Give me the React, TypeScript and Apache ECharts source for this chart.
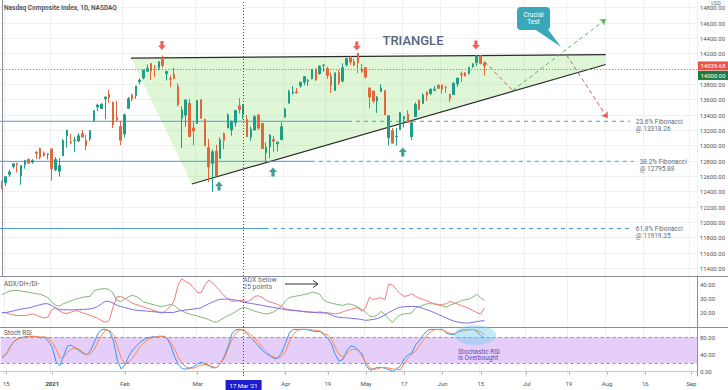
import React, { useEffect, useRef } from "react";
import * as echarts from "echarts";

// ---------- categories ----------
const HOLIDAYS = ["2020-12-25", "2021-01-01", "2021-01-18", "2021-02-15", "2021-04-02", "2021-05-31", "2021-07-05", "2021-09-06"];
const FIRST_DAY = "2020-12-14";
const N_DAYS = 182;

const TICK_DATES = ["2020-12-15", "2021-01-04", "2021-02-01", "2021-03-01", "2021-03-17", "2021-04-01", "2021-04-19", "2021-05-03", "2021-05-17", "2021-06-01", "2021-06-15", "2021-07-01", "2021-07-19", "2021-08-02", "2021-08-16", "2021-09-01"];
const TICK_LABELS = ["15", "2021", "Feb", "Mar", "17 Mar '21", "Apr", "19", "May", "17", "Jun", "15", "Jul", "19", "Aug", "16", "Sep"];
const CROSSHAIR_DATE = "2021-03-17";

// ---------- price data [open, high, low, close] ----------
const OHLC: number[][] = [
  [12447, 12543, 12432, 12440], [12519, 12596, 12470, 12595], [12626, 12686, 12594, 12658], [12730, 12764, 12700, 12764],
  [12771, 12772, 12650, 12756], [12607, 12743, 12491, 12742], [12753, 12808, 12700, 12808], [12820, 12834, 12771, 12771],
  [12785, 12823, 12765, 12805], [12914, 12930, 12827, 12900], [12965, 12974, 12822, 12850], [12907, 12924, 12857, 12870],
  [12878, 12902, 12821, 12888],
  [12958, 12958, 12543, 12698], [12687, 12853, 12665, 12819], [12666, 12839, 12596, 12741], [12867, 13090, 12867, 13067],
  [13128, 13208, 12975, 13202], [13048, 13157, 13018, 13036], [13068, 13118, 12915, 13072], [13060, 13161, 13048, 13128],
  [13159, 13207, 13112, 13112], [13070, 13141, 12940, 12999], [13090, 13199, 13059, 13197], [13329, 13464, 13309, 13457],
  [13505, 13548, 13449, 13530], [13485, 13551, 13479, 13543], [13612, 13636, 13348, 13635], [13672, 13728, 13559, 13626],
  [13570, 13571, 13230, 13271], [13370, 13583, 13313, 13337], [13249, 13325, 13003, 13070],
  [13152, 13421, 13105, 13403], [13488, 13636, 13482, 13612], [13665, 13676, 13578, 13610], [13653, 13777, 13610, 13778],
  [13833, 13879, 13799, 13856], [13885, 13988, 13864, 13988], [13971, 14058, 13967, 14007], [14071, 14076, 13858, 13973],
  [14031, 14051, 13894, 14025], [14014, 14100, 13984, 14095], [14125, 14176, 14017, 14047], [13938, 13980, 13852, 13966],
  [13874, 13913, 13763, 13865], [13928, 14016, 13869, 13874], [13773, 13813, 13512, 13533], [13359, 13513, 12971, 13465],
  [13398, 13598, 13248, 13597], [13551, 13606, 13108, 13119], [13232, 13312, 13004, 13192],
  [13289, 13590, 13289, 13588], [13598, 13608, 13355, 13358], [13341, 13354, 12996, 12998], [12976, 13090, 12525, 12723],
  [12767, 12951, 12397, 12920], [12928, 13011, 12607, 12609], [12834, 13107, 12834, 13073], [13160, 13169, 12953, 13069],
  [13230, 13422, 13230, 13399], [13205, 13324, 13130, 13320], [13302, 13460, 13248, 13459], [13520, 13620, 13419, 13471],
  [13410, 13540, 13347, 13525], [13340, 13400, 13116, 13116], [13114, 13248, 13065, 13215], [13204, 13398, 13204, 13377],
  [13400, 13415, 13208, 13227], [13290, 13292, 12961, 12961], [12907, 13040, 12787, 12977], [12987, 13149, 12838, 13139],
  [13080, 13129, 12914, 13059], [13025, 13051, 12924, 13045], [13077, 13305, 13075, 13247],
  [13371, 13489, 13367, 13480], [13554, 13730, 13553, 13705], [13686, 13778, 13666, 13698], [13701, 13752, 13681, 13688],
  [13780, 13830, 13757, 13829], [13827, 13900, 13788, 13900], [13838, 13870, 13779, 13850], [13875, 14000, 13863, 13996],
  [14003, 14004, 13845, 13857], [13939, 14045, 13926, 14039], [14048, 14060, 13963, 14052], [14005, 14030, 13870, 13914],
  [13906, 13955, 13685, 13787], [13721, 13951, 13711, 13950], [13952, 13990, 13790, 13818], [13842, 14073, 13827, 14016],
  [14060, 14138, 14030, 14138], [14146, 14167, 14053, 14090], [14094, 14130, 14034, 14051], [14203, 14212, 13947, 14082],
  [14000, 14065, 13950, 13962],
  [14018, 14024, 13876, 13895], [13753, 13754, 13485, 13634], [13712, 13719, 13553, 13582], [13582, 13647, 13428, 13633],
  [13707, 13799, 13702, 13752], [13721, 13722, 13401, 13402], [13104, 13394, 13002, 13389], [13196, 13230, 13031, 13032],
  [13120, 13232, 12999, 13125], [13209, 13441, 13208, 13430], [13351, 13381, 13237, 13379], [13413, 13464, 13300, 13303],
  [13117, 13330, 13073, 13299], [13377, 13564, 13376, 13536], [13591, 13604, 13462, 13471], [13549, 13680, 13546, 13661],
  [13701, 13709, 13582, 13657], [13677, 13744, 13664, 13738], [13724, 13778, 13709, 13736], [13787, 13803, 13743, 13749],
  [13792, 13792, 13678, 13737], [13759, 13780, 13691, 13756], [13668, 13676, 13568, 13614], [13667, 13828, 13667, 13814],
  [13806, 13886, 13767, 13881], [13935, 13967, 13830, 13925], [13950, 13958, 13900, 13911], [13944, 14029, 13925, 14020],
  [14033, 14069, 14015, 14070], [14082, 14175, 14036, 14174], [14173, 14180, 14059, 14073], [14078, 14098, 13915, 14040],
];

const LAST_PRICE = 14039.68;
const KEY_LEVEL = 14000;

// ---------- ADX / DI ----------
const DI_PLUS = [
  32.8, 34, 35.4, 35.7, 35.9, 35.4, 35, 34.5, 34, 33.5, 33, 32.1, 30.7, 27.6, 25.4, 24.7, 26.4, 27.3, 28.3, 29.5,
  30.2, 30.9, 31.4, 31.6, 35.4, 36.4, 36.9, 37.1, 36.4, 34, 28.8, 28, 29.7, 31.2, 32.3, 31.6, 30, 27.6, 26.9, 26.2,
  25.4, 24.7, 24.5, 25.2, 25.9, 25.2, 22.8, 21.4, 20, 19.2, 18.5, 17.8, 16.9, 16.2, 15.2, 14, 13.3, 15, 16.4, 18.1,
  19.2, 20.7, 22.6, 23.8, 23.3, 22.1, 21.2, 20.4, 19.7, 19.2, 19.7, 20.7, 22.6, 24.5, 28.3, 30.7, 31.4, 31.9, 32.3, 33,
  33.5, 34.7, 34, 33, 29.2, 27.6, 26.9, 26.2, 25.7, 25.2, 26.2, 26.2, 25.2, 24, 22.1, 20.4, 17.6, 17.3, 18.3, 21.1,
  18.8, 15.7, 13.3, 16.4, 18.5, 19.2, 19.5, 20, 23.5, 24.5, 25.4, 26.4, 26.4, 26.4, 25.9, 24.9, 24, 25.4, 26.4, 27.3,
  28.8, 29.2, 29.7, 31.2, 33, 30.7, 28.8,
];
const DI_MINUS = [
  20.2, 20, 19.2, 18.5, 18.1, 18.1, 18.1, 18.5, 19.2, 18.3, 17.3, 16.4, 16.9, 22.1, 23.5, 21.6, 20, 19.5, 20.4, 21.4,
  21.2, 20, 19.2, 18.3, 17.1, 16.2, 14.5, 13.3, 14.5, 24, 31.2, 31.6, 30.4, 28.8, 26.9, 25.9, 25, 24, 23.3, 22.3,
  21.4, 20.4, 19.7, 22.1, 24.5, 28.8, 39.5, 44.2, 41.9, 40.7, 37.8, 34.5, 34, 39.5, 43.1, 41.2, 38.3, 35.4, 32.1, 30,
  28.1, 28.3, 28.8, 28.8, 27.6, 29.2, 31.6, 32.1, 30.7, 28.8, 27.6, 26.9, 25.9, 24.5, 22.8, 22.3, 21.9, 21.6, 21.2, 20.7,
  20.4, 20.4, 20.4, 20.7, 20.2, 20, 19.7, 19.2, 19.7, 20.7, 21.6, 22.3, 23.3, 23.5, 21.2, 24, 31.2, 29.2, 30.2, 30.7,
  29.2, 40.2, 39.7, 36.4, 33.5, 31.6, 32.1, 33.5, 31.6, 30.4, 29.5, 28.5, 27.3, 26.2, 25.4, 25.9, 26.4, 28.1, 27.1, 26.2,
  25, 24.2, 23, 21.6, 20.2, 19.2, 23.5,
];
const ADX = [
  20, 20.2, 20.7, 21.4, 22.1, 22.6, 23.1, 23.5, 24.2, 25, 25.7, 26.4, 26.4, 25.2, 23.5, 22.3, 22.1, 22.1, 22.1, 22.1,
  22.3, 22.3, 22.6, 22.8, 23.3, 24.5, 26.4, 28.1, 28.1, 26.9, 25.4, 24.5, 23.8, 23.1, 22.3, 21.9, 21.6, 21.4, 21.2, 20.9,
  20.7, 20.4, 20.4, 20.2, 20.2, 20.4, 21.2, 21.6, 22.1, 22.3, 22.6, 23.1, 23.5, 25, 26.4, 27.6, 28.8, 29.5, 29.7, 29.7,
  29.5, 29, 28.3, 27.6, 27.1, 26.6, 26.2, 25.7, 25.2, 24.7, 24.2, 23.8, 23.3, 22.8, 22.3, 21.9, 21.6, 21.4, 21.2, 20.9,
  20.7, 20.4, 20.2, 20, 20, 19.7, 18.5, 17.3, 16.9, 16.6, 16.4, 16.2, 15.9, 15.7, 15.2, 14.7, 15, 15.4, 15.9, 17.1,
  18.5, 20.2, 21.6, 23.1, 24, 24.2, 24.5, 24.5, 24.5, 24, 23.1, 22.1, 21.2, 20, 18.8, 17.6, 16.4, 15.2, 14.2, 13.5,
  13.1, 12.8, 12.8, 13.3, 13.8, 14.2, 14.5,
];

// ---------- Stoch RSI ----------
const STOCH_K = [
  31.9, 41.5, 58.5, 69.7, 76.3, 79.3, 81.5, 82.3, 82.3, 80.8, 78.5, 80, 71.1, 56.3, 23, 14.1, 37.8, 60, 61.5, 55.6,
  48.9, 43, 39.3, 48.9, 69, 89.7, 98.5, 98.5, 93.4, 71.1, 26.7, 6, 15.6, 36.3, 50.4, 60, 69, 74.8, 79.3, 80.8,
  81.5, 82.3, 82.3, 78.5, 60, 34.1, 15.6, 6.7, 6, 8.2, 11.9, 18.5, 22.3, 17.8, 13.4, 8.9, 9.7, 19.3, 36.3, 60,
  89.7, 97.8, 98.5, 97, 86.7, 78.5, 69, 58.5, 48.9, 41.5, 36.3, 30.4, 31.9, 45.2, 67.4, 91.1, 98.5, 98.5, 98.5, 98.5,
  97, 94.8, 93.4, 93.4, 86, 78.5, 63.7, 39.3, 24.5, 28.9, 48.9, 60, 57.8, 50.4, 41.5, 14.1, 3.7, 6.7, 10.4, 9.7,
  8.2, 4.5, 0.8, 6.7, 13.4, 30.4, 39.3, 43.7, 63, 73.4, 86, 95.6, 98.5, 98.5, 98.5, 98.5, 89.7, 86.7, 86, 92.6,
  97, 97, 97.8, 98.5, 92.6, 83.7, 77.8,
];
const STOCH_D = [
  35.6, 42.2, 56.3, 71.1, 76.3, 79.3, 80.8, 81.5, 82.3, 81.5, 80.8, 80.8, 78.5, 67.4, 52.6, 31.9, 33.4, 45.2, 52.6, 55.6,
  52.6, 45.2, 39.3, 41.5, 52.6, 71.1, 86, 97, 95.6, 86, 58.5, 31.9, 17.1, 23, 31.9, 45.2, 58.5, 67.4, 74.8, 78.5,
  80.8, 82.3, 82.3, 78.5, 67.4, 52.6, 31.9, 19.3, 10.4, 8.2, 8.2, 12.6, 15.6, 16.3, 15.6, 11.1, 9.7, 20, 31.9, 54.1,
  74.8, 91.1, 97, 97, 91.1, 86, 76.3, 67.4, 55.6, 46.7, 37.8, 34.1, 31.9, 35.6, 48.9, 71.1, 86, 97, 97.8, 98.5,
  98.5, 97, 95.6, 94.8, 88.2, 85.2, 74.8, 56.3, 39.3, 34.8, 41.5, 51.1, 52.6, 48.9, 36.3, 19.3, 8.2, 5.2, 6.7, 9.7,
  9.7, 8.2, 6.7, 5.2, 4.5, 19.3, 31.9, 40.7, 48.2, 61.5, 73.4, 86, 93.4, 98.5, 97.8, 97, 92.6, 88.9, 88.2, 91.9,
  94.8, 96.3, 97.8, 98.5, 95.6, 92.6, 85.9,
];
const STOCH_BAND = [20, 80];

// ---------- annotations (x = trading-day index, y = price) ----------
const TRI_TOP = [[33.7, 14143], [157.7, 14187]];
const TRI_SUPPORT = [[49.6, 12500], [157.7, 14059]];
const FIB_NAMES = ["23.6%", "38.2%", "61.8%"];
const FIB_LEVELS = [13318.26, 12795.88, 11919.35];
const FIB_SOLID_END = [90.4, 80.7, 68.7];
const FIB_DASH_END = [164, 165, 164];
const PROJ_RED_1 = [[126.1, 14095], [133.4, 13720]];
const PROJ_GREEN = [[133.4, 13720], [157.8, 14652]];
const PROJ_RED_2 = [[147.5, 14183], [158.2, 13357]];
const RESISTANCE_ARROWS = [[41.8, 14307], [92.7, 14300], [123.8, 14313]];
const SUPPORT_ARROWS = [[56.7, 12474], [70.8, 12657], [104.7, 12917]];

// ---------- styles ----------
const FONT = 'Roboto, "Noto Sans", sans-serif';
const UP = "#1f9d86";
const DOWN = "#e2683c";
const FIB_COLOR = "#4b9bdc";
const AXIS_TEXT = "#50535e";
const SEP = "#8c8f97";
const GRID_LINE = "#eef0f4";

function buildDates(): string[] {
  const out: string[] = [];
  const d = new Date(FIRST_DAY + "T00:00:00Z");
  while (out.length < N_DAYS) {
    const wd = d.getUTCDay();
    const s = d.toISOString().slice(0, 10);
    if (wd !== 0 && wd !== 6 && HOLIDAYS.indexOf(s) < 0) out.push(s);
    d.setUTCDate(d.getUTCDate() + 1);
  }
  return out;
}

function buildOption() {
  const DATES = buildDates();
  const isTick = (_i: number, v: string) => TICK_DATES.indexOf(v) >= 0;
  const isGrid = (_i: number, v: string) => TICK_DATES.indexOf(v) >= 0 && v !== CROSSHAIR_DATE;
  const fmtDate = (v: string) => {
    const k = TICK_DATES.indexOf(v);
    if (k < 0) return "";
    if (v === CROSSHAIR_DATE) return "{hl|" + TICK_LABELS[k] + "}";
    if (TICK_LABELS[k] === "2021") return "{b|2021}";
    return TICK_LABELS[k];
  };
  const catAxis = (grid: number, showLabels: boolean, lineColor: string) => ({
    type: "category",
    gridIndex: grid,
    data: DATES,
    boundaryGap: true,
    axisLine: { show: true, lineStyle: { color: lineColor, width: 1 } },
    axisTick: { show: showLabels, interval: isTick, alignWithLabel: true, length: 3, lineStyle: { color: "#b2b5be" } },
    axisLabel: {
      show: showLabels,
      interval: isTick,
      formatter: fmtDate,
      fontSize: 6,
      color: AXIS_TEXT,
      margin: 4,
      fontFamily: FONT,
      rich: {
        hl: { backgroundColor: "#1d1dd0", color: "#fff", padding: [2, 4, 2, 4], fontSize: 6, fontFamily: FONT },
        b: { fontWeight: "bold", fontSize: 6, color: "#3d404a", fontFamily: FONT },
      },
    },
    splitLine: { show: true, interval: isGrid, lineStyle: { color: GRID_LINE, width: 1 } },
  });
  const yLabel = { fontSize: 6, color: AXIS_TEXT, margin: 3, fontFamily: FONT };
  const crossLine = {
    silent: true,
    symbol: "none",
    label: { show: false },
    data: [{ xAxis: CROSSHAIR_DATE, lineStyle: { type: [1, 2], color: "#3443c6", width: 1 } }],
  };

  const series: any[] = [];

  // triangle (custom shape through the axes)
  series.push({
    type: "custom",
    xAxisIndex: 3,
    yAxisIndex: 0,
    z: 1,
    clip: false,
    silent: true,
    data: [[TRI_TOP[0][0], TRI_TOP[0][1]]],
    renderItem: (_p: any, api: any) => {
      const tl = api.coord(TRI_TOP[0]);
      const tr = api.coord(TRI_TOP[1]);
      const bl = api.coord(TRI_SUPPORT[0]);
      const br = api.coord(TRI_SUPPORT[1]);
      return {
        type: "group",
        children: [
          { type: "polygon", shape: { points: [tl, tr, br, bl] }, style: { fill: "rgba(150,228,118,0.30)" } },
          { type: "line", shape: { x1: tl[0], y1: tl[1], x2: tr[0], y2: tr[1] }, style: { stroke: "#2b2b2b", lineWidth: 1.2 } },
          { type: "line", shape: { x1: bl[0], y1: bl[1], x2: br[0], y2: br[1] }, style: { stroke: "#2b2b2b", lineWidth: 1.2 } },
        ],
      };
    },
  });

  // Fibonacci levels
  FIB_LEVELS.forEach((lvl, k) => {
    series.push({
      type: "line",
      xAxisIndex: 3,
      yAxisIndex: 0,
      z: 1,
      silent: true,
      symbol: "none",
      data: [[-0.5, lvl], [FIB_SOLID_END[k], lvl]],
      lineStyle: { color: FIB_COLOR, width: 1 },
    });
    series.push({
      type: "line",
      xAxisIndex: 3,
      yAxisIndex: 0,
      z: 1,
      silent: true,
      symbol: "none",
      data: [[FIB_SOLID_END[k], lvl], [FIB_DASH_END[k], lvl]],
      lineStyle: { color: FIB_COLOR, width: 1, type: [4, 4] },
      endLabel: {
        show: true,
        formatter: FIB_NAMES[k] + " Fibonacci\n@ " + lvl.toFixed(2),
        color: "#5d6b79",
        fontSize: 6.5,
        lineHeight: 7,
        fontFamily: FONT,
        distance: 6,
        offset: [0, 4],
        align: "left",
      },
    });
  });

  // candles
  series.push({
    type: "candlestick",
    xAxisIndex: 0,
    yAxisIndex: 0,
    z: 3,
    barWidth: 2,
    data: OHLC.map(([o, h, l, c]) => [o, c, l, h]),
    itemStyle: { color: UP, color0: DOWN, borderColor: UP, borderColor0: DOWN, borderWidth: 1 },
    markLine: {
      silent: true,
      symbol: "none",
      label: { show: false },
      data: [
        { yAxis: KEY_LEVEL, lineStyle: { type: [1, 2], color: "#7d9a6a", width: 1 } },
        { xAxis: CROSSHAIR_DATE, lineStyle: { type: [1, 2], color: "#3443c6", width: 1 } },
      ],
    },
  });

  // arrows + projection lines
  const dash = (color: string) => ({ color, type: [4, 3], width: 1 });
  series.push({
    type: "scatter",
    xAxisIndex: 3,
    yAxisIndex: 0,
    z: 4,
    silent: true,
    symbol: "path://M3,0L7,0L7,5L10,5L5,10L0,5L3,5Z",
    symbolSize: [8, 9],
    itemStyle: { color: "#e53935" },
    data: RESISTANCE_ARROWS,
    markLine: {
      silent: true,
      symbolSize: 6,
      label: { show: false },
      data: [
        [{ coord: PROJ_RED_1[0], symbol: "none", lineStyle: dash("#e5534b") }, { coord: PROJ_RED_1[1], symbol: "none", lineStyle: dash("#e5534b") }],
        [{ coord: PROJ_GREEN[0], symbol: "none", lineStyle: dash("#5bb55b") }, { coord: PROJ_GREEN[1], symbol: "arrow", lineStyle: dash("#5bb55b") }],
        [{ coord: PROJ_RED_2[0], symbol: "none", lineStyle: dash("#e5534b") }, { coord: PROJ_RED_2[1], symbol: "arrow", lineStyle: dash("#e5534b") }],
      ],
    },
  });
  series.push({
    type: "scatter",
    xAxisIndex: 3,
    yAxisIndex: 0,
    z: 4,
    silent: true,
    symbol: "path://M5,0L10,5L7,5L7,10L3,10L3,5L0,5Z",
    symbolSize: [8, 9],
    itemStyle: { color: "#0e8a78" },
    data: SUPPORT_ARROWS,
  });

  // ADX panel
  const lineS = (data: number[], color: string, x: number, y: number, extra: any = {}) => ({
    type: "line",
    xAxisIndex: x,
    yAxisIndex: y,
    data,
    symbol: "none",
    silent: true,
    lineStyle: { color, width: 1 },
    ...extra,
  });
  series.push(lineS(DI_PLUS, "#7fb874", 1, 1));
  series.push(lineS(DI_MINUS, "#f27b78", 1, 1));
  series.push(lineS(ADX, "#7a6ee8", 1, 1, { markLine: crossLine }));

  // Stoch RSI panel
  series.push(
    lineS(STOCH_K, "#3d93f2", 2, 2, {
      markArea: {
        silent: true,
        itemStyle: { color: "#e5cefa" },
        data: [[{ yAxis: STOCH_BAND[0] }, { yAxis: STOCH_BAND[1] }]],
      },
      markLine: {
        silent: true,
        symbol: "none",
        label: { show: false },
        data: [
          { yAxis: STOCH_BAND[0], lineStyle: { type: [3, 3], color: "#9d7fc9", width: 1 } },
          { yAxis: STOCH_BAND[1], lineStyle: { type: [3, 3], color: "#9d7fc9", width: 1 } },
          { xAxis: CROSSHAIR_DATE, lineStyle: { type: [1, 2], color: "#3443c6", width: 1 } },
        ],
      },
    })
  );
  series.push(lineS(STOCH_D, "#ff8748", 2, 2));

  return {
    animation: false,
    backgroundColor: "#ffffff",
    textStyle: { fontFamily: FONT },
    grid: [
      { left: 0, right: 31, top: 0, height: 276 },
      { left: 0, right: 31, top: 276, height: 51 },
      { left: 0, right: 31, top: 327, height: 51 },
    ],
    xAxis: [
      catAxis(0, false, SEP),
      catAxis(1, false, SEP),
      catAxis(2, true, "#c5c8ce"),
      { type: "value", gridIndex: 0, min: -0.5, max: N_DAYS - 0.5, show: false },
    ],
    yAxis: [
      {
        type: "value",
        gridIndex: 0,
        position: "right",
        min: 11300,
        max: 14900,
        interval: 100,
        axisLine: { show: true, lineStyle: { color: SEP } },
        axisTick: { show: false },
        axisLabel: {
          ...yLabel,
          formatter: (v: number) => {
            const r = Math.round(v);
            // 14000 is carried by the price tag at the right edge
            return r % 200 === 0 && r > 11300 && r < 14900 && r !== KEY_LEVEL ? r.toFixed(2) : "";
          },
        },
        splitLine: { show: true, lineStyle: { color: ["rgba(0,0,0,0)", GRID_LINE] } },
      },
      {
        type: "value",
        gridIndex: 1,
        position: "right",
        min: 10,
        max: 46,
        interval: 10,
        axisLine: { show: true, lineStyle: { color: SEP } },
        axisTick: { show: false },
        axisLabel: {
          ...yLabel,
          formatter: (v: number) => {
            const r = Math.round(v);
            return r >= 20 && r <= 40 ? r.toFixed(2) : "";
          },
        },
        splitLine: { show: false },
      },
      {
        type: "value",
        gridIndex: 2,
        position: "right",
        min: -10,
        max: 104,
        interval: 10,
        axisLine: { show: true, lineStyle: { color: SEP } },
        axisTick: { show: false },
        axisLabel: {
          ...yLabel,
          formatter: (v: number) => {
            const r = Math.round(v);
            return r === 0 || r === 40 || r === 80 ? r.toFixed(2) : "";
          },
        },
        splitLine: { show: false },
      },
    ],
    series,
  };
}

function buildGraphics(yLast: number, yLevel: number) {
  const t = (x: number, y: number, text: string, style: any = {}) => ({
    type: "text",
    x,
    y,
    z: 20,
    silent: true,
    style: { text, fill: "#4a4f5c", fontSize: 6.5, fontFamily: FONT, verticalAlign: "middle", ...style },
  });
  const redY = yLast;
  const greenY = Math.max(yLevel, redY + 9.5);
  return [
    t(4, 8, "Nasdaq Composite Index, 1D, NASDAQ", { fontWeight: 600, fill: "#4a4f5c" }),
    {
      type: "text",
      x: 716,
      y: 2.5,
      z: 20,
      style: {
        text: "USD",
        fill: "#6a6d78",
        fontSize: 5,
        fontFamily: FONT,
        align: "center",
        verticalAlign: "middle",
        backgroundColor: "#fff",
        borderColor: "#c9ccd2",
        borderWidth: 0.5,
        padding: [0, 2, 0, 2],
        borderRadius: 1,
      },
    },
    t(413, 40, "TRIANGLE", { fontSize: 13, fontWeight: 500, fill: "#57667b", align: "center" }),
    // Crucial test callout
    { type: "polygon", z: 20, shape: { points: [[533, 28], [547, 28], [561, 47]] }, style: { fill: "#3ba7b8" } },
    { type: "rect", z: 20, shape: { x: 517, y: 7, width: 33, height: 23, r: 4 }, style: { fill: "#3ba7b8" } },
    t(533.5, 18.5, "Crucial\nTest", { fill: "#ffffff", align: "center", lineHeight: 7.5 }),
    // panel titles
    t(4, 284, "ADX/DI+/DI-", { fill: "#555862", fontSize: 6.5 }),
    t(4, 333, "Stoch RSI", { fill: "#555862", fontSize: 6.5 }),
    // ADX note
    t(243, 283.7, "ADX below\n25 points", { fill: "#5b6b8c", fontSize: 7, lineHeight: 6.5 }),
    { type: "line", z: 20, shape: { x1: 285, y1: 284, x2: 318, y2: 284 }, style: { stroke: "#333", lineWidth: 1 } },
    { type: "polyline", z: 20, shape: { points: [[313, 280.5], [318, 284], [313, 287.5]] }, style: { stroke: "#333", lineWidth: 1, fill: null } },
    // overbought highlight
    { type: "ellipse", z: 15, shape: { cx: 475, cy: 335, rx: 21, ry: 10 }, style: { fill: "rgba(105,205,235,0.42)" } },
    t(458, 355, "Stochastic RSI\nis Overbought", { fill: "#5a4fb0", fontSize: 6.5, lineHeight: 6.5 }),
    // separators across the price scale
    { type: "line", z: 20, shape: { x1: 697, y1: 276.5, x2: 728, y2: 276.5 }, style: { stroke: SEP, lineWidth: 1 } },
    { type: "line", z: 20, shape: { x1: 697, y1: 327.5, x2: 728, y2: 327.5 }, style: { stroke: SEP, lineWidth: 1 } },
    // price tags
    { type: "rect", z: 20, shape: { x: 698, y: redY - 4.5, width: 30, height: 9 }, style: { fill: "#e8524a" } },
    t(713, redY, LAST_PRICE.toFixed(2), { fill: "#fff", fontSize: 6, align: "center" }),
    { type: "rect", z: 20, shape: { x: 698, y: greenY - 4.5, width: 30, height: 9 }, style: { fill: "#1e7b3f" } },
    t(713, greenY, KEY_LEVEL.toFixed(2), { fill: "#fff", fontSize: 6, align: "center" }),
  ];
}

export default function App() {
  const ref = useRef<HTMLDivElement>(null);
  useEffect(() => {
    if (!ref.current) return;
    const chart = echarts.init(ref.current, null, { renderer: "svg" });
    chart.setOption(buildOption() as any);
    const yLast = chart.convertToPixel({ yAxisIndex: 0 } as any, LAST_PRICE) as number;
    const yLevel = chart.convertToPixel({ yAxisIndex: 0 } as any, KEY_LEVEL) as number;
    chart.setOption({ graphic: buildGraphics(yLast, yLevel) } as any);
    return () => chart.dispose();
  }, []);
  return <div ref={ref} style={{ position: "absolute", left: 0, top: 0, width: 728, height: 390, background: "#fff" }} />;
}
